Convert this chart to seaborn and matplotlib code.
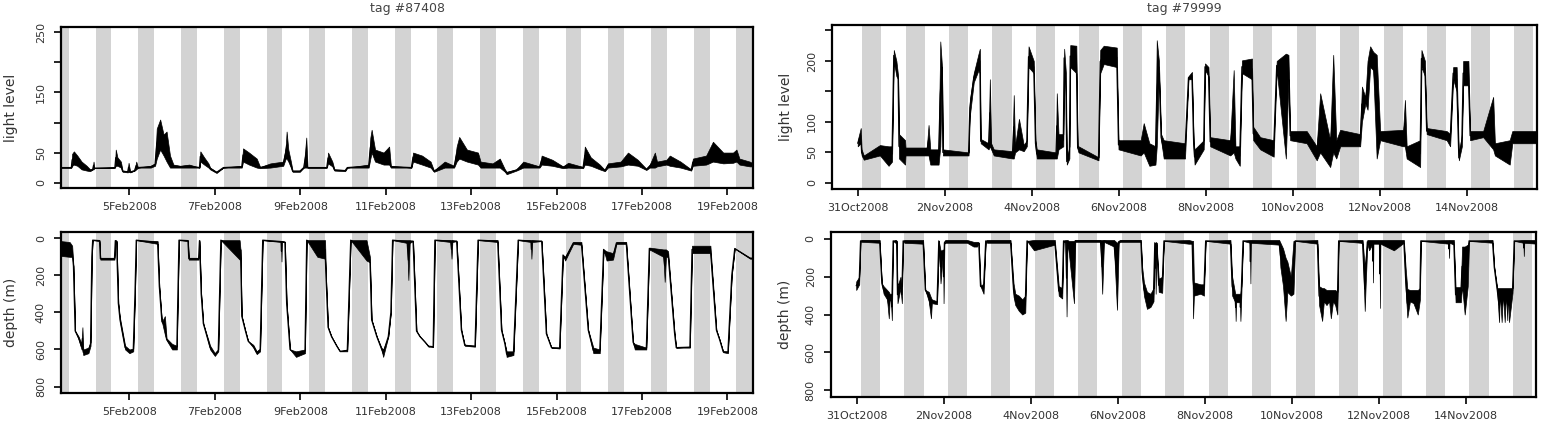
import matplotlib
matplotlib.use("Agg")
import matplotlib.pyplot as plt
import matplotlib.dates as mdates
import numpy as np
import pandas as pd
import seaborn as sns

# 两个标签的光照 / 深度时间序列
# 每个点: (距起始日 0 点的天数, 曲线下包络, 曲线上包络)
start_a = "2008-02-03"
start_b = "2008-10-30"
title_a = "tag #87408"
title_b = "tag #79999"

light_a = [
    (0.40, 25, 25), (0.64, 25, 25), (0.66, 28, 48), (0.70, 30, 52), (0.78, 28, 45), (0.88, 22, 35),
    (1.00, 20, 28), (1.08, 19, 22), (1.14, 22, 22), (1.16, 22, 35), (1.18, 24, 24), (1.66, 25, 25),
    (1.68, 28, 55), (1.72, 28, 42), (1.80, 25, 35), (1.84, 18, 20), (1.96, 17, 19), (1.98, 18, 33),
    (2.02, 17, 18), (2.12, 20, 20), (2.16, 22, 35), (2.20, 25, 25), (2.50, 25, 28), (2.60, 28, 32),
    (2.64, 40, 90), (2.72, 55, 105), (2.80, 45, 80), (2.87, 35, 85), (2.95, 25, 45), (3.03, 25, 30),
    (3.19, 25, 28), (3.40, 25, 30), (3.64, 25, 25), (3.66, 35, 52), (3.75, 30, 42), (3.85, 25, 32),
    (3.89, 22, 25), (4.04, 16, 18), (4.20, 25, 25), (4.63, 25, 28), (4.66, 35, 57), (4.80, 30, 50),
    (4.98, 25, 40), (5.06, 24, 26), (5.30, 25, 32), (5.60, 28, 35), (5.66, 40, 60), (5.68, 40, 85),
    (5.72, 35, 55), (5.78, 25, 35), (5.82, 18, 20), (5.99, 18, 20), (6.08, 25, 25), (6.14, 25, 75),
    (6.17, 25, 25), (6.62, 25, 25), (6.65, 32, 50), (6.75, 27, 35), (6.80, 20, 22), (7.05, 19, 21),
    (7.10, 25, 25), (7.60, 25, 30), (7.64, 40, 75), (7.67, 50, 88), (7.75, 35, 55), (7.95, 30, 50),
    (8.08, 30, 60), (8.12, 25, 28), (8.60, 25, 25), (8.64, 35, 50), (8.85, 30, 45), (9.05, 25, 35),
    (9.13, 18, 20), (9.38, 25, 35), (9.60, 25, 28), (9.66, 35, 60), (9.72, 40, 76), (9.90, 35, 55),
    (10.16, 30, 50), (10.22, 25, 35), (10.50, 25, 32), (10.67, 25, 40), (10.79, 18, 22), (10.83, 14, 18),
    (11.06, 20, 22), (11.22, 25, 35), (11.60, 25, 27), (11.65, 30, 45), (11.90, 28, 38), (12.15, 24, 27),
    (12.27, 25, 33), (12.62, 24, 26), (12.66, 30, 60), (12.80, 28, 42), (13.01, 22, 30), (13.13, 19, 21),
    (13.20, 25, 32), (13.50, 27, 35), (13.67, 30, 50), (13.90, 28, 38), (14.10, 21, 23), (14.18, 25, 30),
    (14.30, 25, 50), (14.35, 27, 35), (14.57, 30, 38), (14.65, 28, 45), (14.90, 25, 35), (15.15, 20, 22),
    (15.19, 28, 40), (15.50, 30, 45), (15.66, 35, 68), (15.90, 32, 50), (16.13, 33, 50), (16.21, 35, 55),
    (16.28, 30, 40), (16.52, 27, 35), (16.60, 27, 32),
]

depth_a = [
    (0.40, 15, 95), (0.60, 20, 100), (0.66, 40, 100), (0.69, 150, 150), (0.73, 500, 500), (0.81, 530, 545),
    (0.88, 570, 600), (0.90, 480, 600), (0.92, 600, 630), (1.04, 590, 620), (1.09, 560, 580), (1.12, 100, 100),
    (1.14, 10, 10), (1.30, 10, 15), (1.32, 105, 115), (1.65, 105, 115), (1.67, 10, 15), (1.70, 15, 15),
    (1.74, 350, 350), (1.78, 430, 450), (1.90, 580, 600), (2.00, 600, 620), (2.09, 595, 610), (2.13, 300, 300),
    (2.16, 10, 10), (2.66, 15, 30), (2.70, 260, 260), (2.76, 450, 450), (2.83, 420, 520), (2.87, 540, 550),
    (3.00, 570, 600), (3.11, 580, 600), (3.16, 10, 10), (3.37, 10, 15), (3.39, 105, 115), (3.62, 105, 115),
    (3.64, 10, 15), (3.68, 300, 300), (3.73, 460, 460), (3.89, 580, 600), (4.00, 620, 635), (4.08, 600, 610),
    (4.14, 10, 10), (4.58, 10, 115), (4.60, 60, 60), (4.63, 420, 420), (4.71, 495, 495), (4.78, 555, 555),
    (4.90, 575, 590), (4.98, 610, 625), (5.06, 595, 610), (5.12, 10, 10), (5.55, 15, 20), (5.56, 15, 125),
    (5.57, 15, 20), (5.64, 20, 20), (5.68, 350, 350), (5.76, 600, 600), (5.90, 610, 640), (6.11, 600, 620),
    (6.15, 10, 10), (6.40, 10, 100), (6.58, 10, 110), (6.60, 200, 200), (6.65, 480, 480), (6.73, 530, 530),
    (6.85, 580, 580), (6.93, 610, 610), (7.10, 600, 610), (7.18, 10, 10), (7.55, 10, 120), (7.63, 100, 130),
    (7.67, 440, 440), (7.79, 530, 530), (7.90, 590, 600), (7.94, 600, 640), (8.06, 530, 530), (8.12, 400, 400),
    (8.16, 10, 10), (8.50, 10, 25), (8.53, 10, 225), (8.56, 10, 25), (8.64, 15, 15), (8.72, 500, 500),
    (8.80, 530, 530), (8.92, 560, 560), (9.00, 580, 585), (9.11, 585, 585), (9.15, 10, 10), (9.52, 10, 20),
    (9.54, 10, 110), (9.56, 10, 20), (9.66, 15, 15), (9.77, 495, 495), (9.85, 575, 580), (10.09, 580, 585),
    (10.16, 10, 10), (10.62, 10, 20), (10.71, 495, 495), (10.79, 570, 570), (10.83, 610, 640), (10.99, 610, 630),
    (11.10, 10, 10), (11.40, 10, 20), (11.41, 10, 110), (11.43, 10, 20), (11.65, 15, 15), (11.76, 515, 515),
    (11.88, 590, 590), (12.07, 590, 595), (12.15, 90, 90), (12.20, 100, 120), (12.39, 20, 30), (12.58, 20, 35),
    (12.74, 495, 495), (12.86, 590, 620), (13.01, 600, 620), (13.10, 60, 60), (13.17, 70, 120), (13.32, 80, 115),
    (13.40, 20, 30), (13.63, 20, 30), (13.79, 560, 560), (13.83, 570, 600), (14.10, 590, 600), (14.17, 50, 60),
    (14.50, 60, 100), (14.53, 60, 235), (14.56, 60, 100), (14.61, 70, 100), (14.76, 510, 510), (14.80, 590, 590),
    (15.12, 585, 590), (15.17, 40, 80), (15.60, 40, 80), (15.74, 495, 495), (15.82, 550, 550), (15.90, 610, 615),
    (16.01, 610, 620), (16.10, 200, 200), (16.17, 55, 55), (16.53, 105, 110), (16.60, 105, 110),
]

light_b = [
    (0.99, 60, 70), (1.06, 65, 90), (1.08, 45, 55), (1.13, 38, 45), (1.50, 45, 62), (1.70, 28, 60),
    (1.78, 35, 60), (1.82, 200, 218), (1.88, 175, 200), (1.92, 170, 175), (1.94, 40, 80), (2.08, 30, 70),
    (2.09, 45, 58), (2.58, 45, 58), (2.62, 45, 95), (2.66, 30, 55), (2.85, 30, 55), (2.89, 60, 232),
    (2.93, 190, 190), (2.95, 45, 55), (3.54, 45, 50), (3.57, 110, 136), (3.66, 165, 180), (3.77, 185, 212),
    (3.80, 180, 220), (3.82, 65, 72), (4.00, 55, 65), (4.03, 60, 170), (4.06, 55, 65), (4.12, 45, 55),
    (4.55, 40, 52), (4.58, 40, 144), (4.61, 50, 60), (4.70, 55, 105), (4.81, 52, 62), (4.88, 60, 70),
    (4.92, 190, 224), (5.04, 180, 200), (5.08, 60, 70), (5.11, 40, 55), (5.55, 40, 50), (5.57, 40, 147),
    (5.61, 55, 80), (5.72, 60, 80), (5.74, 190, 220), (5.78, 140, 180), (5.80, 30, 40), (5.86, 40, 60),
    (5.88, 190, 226), (6.02, 180, 225), (6.05, 55, 60), (6.07, 50, 60), (6.53, 37, 42), (6.57, 180, 218),
    (6.65, 195, 225), (6.95, 190, 222), (6.99, 55, 70), (7.50, 45, 70), (7.57, 50, 98), (7.70, 28, 65),
    (7.84, 30, 60), (7.87, 60, 234), (7.92, 180, 200), (7.97, 70, 80), (8.03, 40, 70), (8.52, 40, 65),
    (8.60, 170, 175), (8.68, 170, 182), (8.72, 60, 65), (8.74, 30, 55), (8.95, 55, 70), (8.98, 185, 196),
    (9.06, 175, 190), (9.10, 60, 75), (9.56, 45, 70), (9.64, 50, 185), (9.68, 40, 60), (9.78, 28, 60),
    (9.83, 180, 201), (10.06, 170, 204), (10.09, 70, 92), (10.25, 55, 75), (10.56, 43, 70), (10.63, 185, 200),
    (10.84, 40, 212), (10.90, 170, 210), (10.94, 70, 85), (11.32, 65, 85), (11.55, 37, 60), (11.63, 50, 147),
    (11.86, 26, 70), (11.93, 50, 210), (12.00, 40, 70), (12.09, 60, 87), (12.55, 60, 80), (12.59, 100, 158),
    (12.67, 130, 140), (12.72, 120, 200), (12.78, 190, 224), (12.85, 185, 215), (12.93, 40, 210), (13.01, 70, 85),
    (13.54, 60, 87), (13.58, 60, 136), (13.62, 40, 60), (13.93, 26, 70), (13.96, 190, 218), (14.04, 175, 200),
    (14.08, 80, 90), (14.54, 70, 85), (14.62, 60, 80), (14.69, 170, 190), (14.77, 150, 190), (14.82, 37, 45),
    (14.89, 60, 80), (14.92, 160, 200), (15.04, 160, 200), (15.08, 70, 85), (15.38, 75, 85), (15.61, 55, 141),
    (15.65, 45, 65), (15.99, 30, 70), (16.05, 65, 85), (16.62, 65, 85),
]

depth_b = [
    (0.98, 225, 270), (1.05, 200, 240), (1.08, 10, 10), (1.11, 5, 15), (1.52, 5, 20), (1.57, 235, 235),
    (1.61, 250, 290), (1.69, 270, 320), (1.73, 280, 420), (1.75, 290, 320), (1.78, 290, 330), (1.80, 290, 430),
    (1.83, 10, 10), (1.88, 5, 20), (1.91, 10, 10), (1.93, 250, 340), (2.00, 200, 260), (2.03, 250, 340),
    (2.06, 10, 10), (2.09, 5, 20), (2.52, 5, 25), (2.57, 270, 270), (2.65, 280, 330), (2.70, 310, 420),
    (2.72, 320, 340), (2.84, 330, 345), (2.88, 10, 10), (2.92, 60, 235), (2.98, 60, 60), (2.99, 60, 340),
    (3.01, 20, 20), (3.03, 5, 20), (3.53, 5, 20), (3.68, 15, 40), (3.76, 15, 40), (3.80, 20, 20),
    (3.84, 250, 250), (3.91, 235, 290), (3.96, 10, 10), (3.99, 5, 20), (4.53, 5, 20), (4.60, 235, 305),
    (4.64, 290, 350), (4.72, 300, 380), (4.80, 320, 400), (4.87, 300, 390), (4.91, 10, 10), (5.07, 5, 60),
    (5.55, 5, 30), (5.64, 250, 300), (5.72, 260, 315), (5.75, 10, 10), (5.80, 5, 20), (5.82, 5, 410),
    (5.84, 5, 20), (5.87, 10, 70), (5.99, 10, 340), (6.02, 5, 15), (6.60, 5, 15), (6.64, 5, 290),
    (6.68, 5, 15), (6.91, 5, 40), (6.98, 20, 375), (7.02, 10, 20), (7.06, 5, 15), (7.53, 5, 15),
    (7.56, 150, 200), (7.60, 230, 300), (7.67, 280, 370), (7.75, 290, 360), (7.82, 260, 330), (7.85, 20, 20),
    (7.87, 20, 290), (7.89, 20, 20), (7.94, 210, 280), (8.02, 200, 285), (8.06, 10, 10), (8.63, 5, 25),
    (8.71, 10, 25), (8.73, 10, 420), (8.75, 230, 300), (8.90, 240, 290), (8.98, 240, 300), (9.02, 10, 10),
    (9.59, 5, 25), (9.63, 200, 300), (9.70, 290, 335), (9.71, 290, 434), (9.72, 290, 335), (9.81, 290, 335),
    (9.82, 290, 434), (9.84, 250, 300), (9.88, 10, 10), (10.04, 5, 20), (10.05, 5, 235), (10.06, 5, 20),
    (10.71, 5, 30), (10.74, 20, 150), (10.80, 50, 250), (10.86, 100, 434), (10.90, 120, 280), (10.98, 200, 300),
    (11.04, 10, 290), (11.08, 10, 10), (11.59, 5, 25), (11.63, 250, 350), (11.70, 260, 434), (11.74, 260, 330),
    (11.80, 270, 350), (11.86, 270, 330), (11.90, 270, 420), (11.95, 270, 330), (12.00, 270, 350),
    (12.05, 280, 400), (12.08, 10, 10), (12.59, 5, 20), (12.63, 5, 25), (12.68, 150, 381), (12.70, 100, 250),
    (12.74, 5, 25), (12.78, 5, 60), (12.86, 5, 25), (12.87, 5, 230), (12.88, 5, 25), (13.02, 5, 25),
    (13.03, 5, 365), (13.04, 5, 25), (13.35, 5, 60), (13.58, 5, 20), (13.62, 150, 265), (13.66, 265, 416),
    (13.72, 270, 330), (13.80, 270, 340), (13.90, 270, 400), (13.95, 260, 320), (13.97, 10, 10),
    (14.61, 5, 25), (14.62, 5, 100), (14.63, 5, 20), (14.73, 5, 30), (14.77, 255, 335), (14.89, 255, 335),
    (14.92, 40, 250), (14.98, 40, 400), (15.05, 30, 250), (15.08, 10, 10), (15.62, 5, 20), (15.66, 150, 150),
    (15.73, 260, 285), (15.77, 260, 440), (15.79, 260, 285), (15.83, 260, 440), (15.86, 260, 285),
    (15.90, 260, 440), (15.93, 260, 285), (15.96, 260, 430), (15.98, 260, 285), (16.00, 260, 440),
    (16.08, 260, 285), (16.12, 10, 10), (16.33, 5, 20), (16.34, 5, 90), (16.35, 5, 20), (16.64, 5, 25),
]

# 灰色阴影时段：起始日序号及每天的开始/结束（天）
night_a_days = list(range(0, 17))
night_a_span = (0.21, 0.58)
night_b_days = list(range(1, 17))
night_b_span = (0.09, 0.53)

ticks_a = ["5Feb2008", "7Feb2008", "9Feb2008", "11Feb2008", "13Feb2008", "15Feb2008", "17Feb2008", "19Feb2008"]
ticks_b = ["31Oct2008", "2Nov2008", "4Nov2008", "6Nov2008", "8Nov2008", "10Nov2008", "12Nov2008", "14Nov2008"]

light_ticks = [0, 50, 100, 150, 200, 250]
light_labels_a = ["0", "50", "", "150", "", "250"]
light_labels_b = ["0", "50", "100", "", "200", ""]
depth_ticks = [0, 200, 400, 600, 800]
depth_labels = ["0", "200", "400", "600", "800"]


def to_frame(rows, start):
    t = np.array([r[0] for r in rows])
    time = pd.Timestamp(start) + pd.to_timedelta(t, unit="D")
    lo = [r[1] for r in rows]
    hi = [r[2] for r in rows]
    return pd.DataFrame({"time": np.concatenate([time.values, time.values]), "value": lo + hi})


def day(start, d):
    return mdates.date2num(pd.Timestamp(start) + pd.to_timedelta(d, unit="D"))


sns.set_style("ticks")
plt.rcParams["font.family"] = ["DejaVu Sans"]

fig = plt.figure(figsize=(15.42, 4.40), dpi=100)
ax_la = fig.add_axes([0.0396, 0.5727, 0.4488, 0.3659])
ax_da = fig.add_axes([0.0396, 0.1068, 0.4488, 0.3659])
ax_lb = fig.add_axes([0.5396, 0.5705, 0.4572, 0.3727])
ax_db = fig.add_axes([0.5389, 0.0977, 0.4572, 0.3750])

panels = [
    (ax_la, light_a, start_a, night_a_days, night_a_span, ticks_a, (0.40, 16.60), (-9, 259),
     light_ticks, light_labels_a, "light level", -0.062),
    (ax_da, depth_a, start_a, night_a_days, night_a_span, ticks_a, (0.40, 16.60), (835, -34),
     depth_ticks, depth_labels, "depth (m)", -0.062),
    (ax_lb, light_b, start_b, night_b_days, night_b_span, ticks_b, (0.40, 16.62), (-10, 259),
     light_ticks, light_labels_b, "light level", -0.055),
    (ax_db, depth_b, start_b, night_b_days, night_b_span, ticks_b, (0.40, 16.62), (837, -37),
     depth_ticks, depth_labels, "depth (m)", -0.055),
]

for ax, rows, start, ndays, nspan, xt, xl, yl, yt, ytl, ylab, ylx in panels:
    df = to_frame(rows, start)
    sns.lineplot(data=df, x="time", y="value", ax=ax, color="black", lw=0.9,
                 errorbar=("pi", 100),
                 err_kws={"alpha": 1, "linewidth": 0.5, "edgecolor": "black"})
    # 阴影
    for d in ndays:
        ax.axvspan(day(start, d + nspan[0]), day(start, d + nspan[1]),
                   color="#d3d3d3", lw=0, zorder=0)
    ax.set_xlim(day(start, xl[0]), day(start, xl[1]))
    ax.set_ylim(*yl)
    ax.set_xticks([mdates.date2num(pd.to_datetime(s, format="%d%b%Y")) for s in xt], xt)
    ax.set_yticks(yt, ytl, rotation=90, va="center")
    ax.set_xlabel("")
    ax.set_ylabel(ylab, fontsize=10, color="#333333")
    ax.yaxis.set_label_coords(ylx, 0.5)
    ax.tick_params(direction="out", length=5, width=1.4, labelsize=8,
                   labelcolor="#333333", pad=5)
    ax.tick_params(axis="y", pad=6)
    for sp in ax.spines.values():
        sp.set_visible(True)
        sp.set_linewidth(1.6)
        sp.set_color("black")
    ax.set_facecolor("white")

fig.text(0.264, 0.995, title_a, ha="center", va="top", fontsize=9, color="#444444")
fig.text(0.768, 0.995, title_b, ha="center", va="top", fontsize=9, color="#444444")

fig.savefig("out.png", dpi=100)
